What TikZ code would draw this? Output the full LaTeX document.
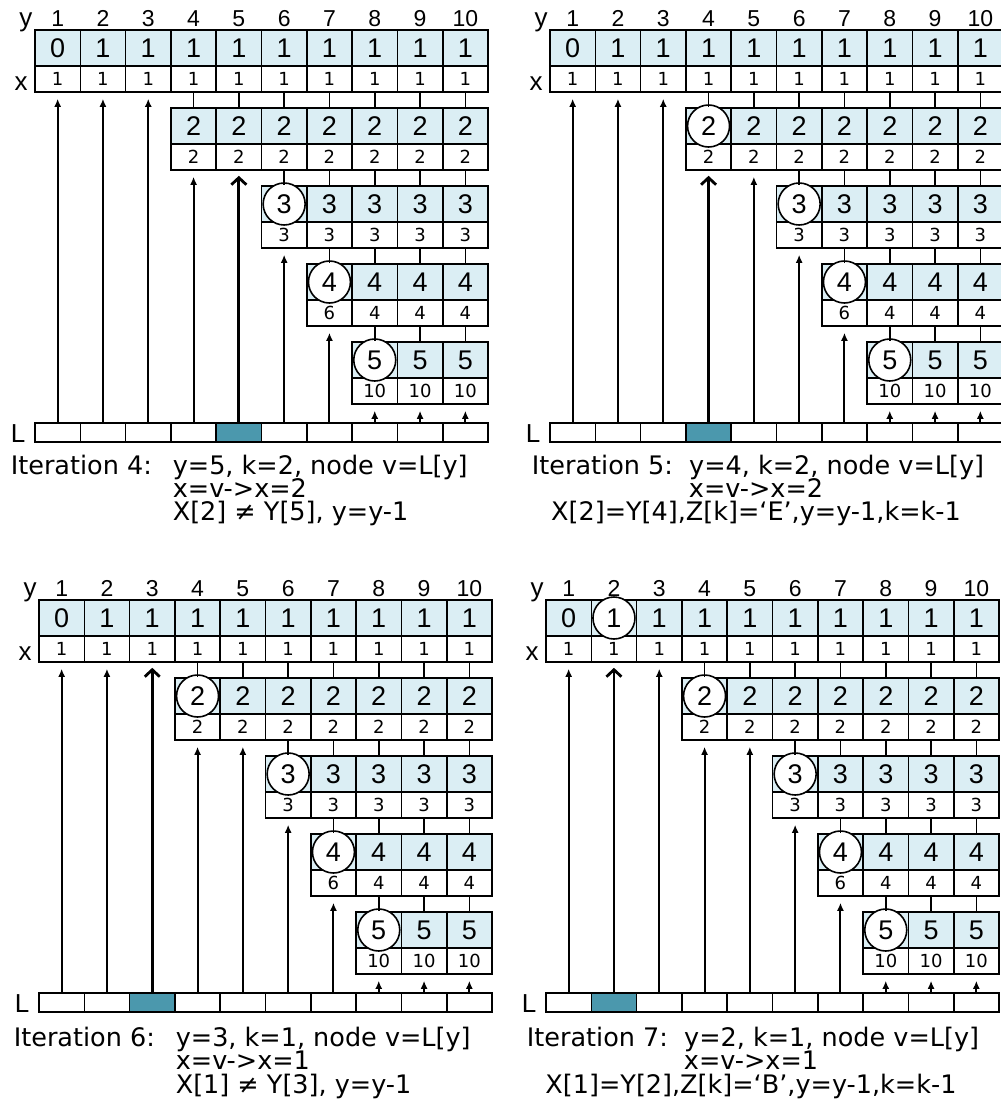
\documentclass[tikz,border=0pt]{standalone}
\usepackage{fontspec}
\setmainfont{DejaVu Sans}
\newfontfamily\arialfont{Liberation Sans}
\usetikzlibrary{arrows.meta, positioning, calc}

\definecolor{cellblue}{RGB}{219,238,244}
\definecolor{hlteal}{RGB}{75,152,173}

\tikzset{
  valcell/.style={draw, fill=cellblue, minimum width=45.3pt, minimum height=36pt, inner sep=0pt,
    font=\arialfont\fontsize{27}{27}\selectfont},
  xcell/.style={draw, fill=white, minimum width=45.3pt, minimum height=26pt, inner sep=0pt,
    font=\fontsize{18}{18}\selectfont},
  lcell/.style={draw, fill=white, minimum width=45.3pt, minimum height=19pt, inner sep=0pt},
  ring/.style={draw, circle, fill=white, minimum size=42pt, inner sep=0pt,
    font=\arialfont\fontsize{27}{27}\selectfont},
  ptr/.style={-{Latex[length=8pt,width=7pt]}, line width=2pt, shorten >=6pt},
  bigptr/.style={-{Straight Barb[length=7pt,width=15pt]}, line width=2.8pt, shorten >=5pt},
  numlbl/.style={anchor=base, inner sep=0pt, font=\arialfont\fontsize{23}{23}\selectfont},
  rowlbl/.style={anchor=base, inner sep=0pt, font=\arialfont\fontsize{26}{26}\selectfont},
  itertext/.style={anchor=base west, inner sep=0pt, font=\fontsize{25.5}{25.5}\selectfont},
  itermid/.style={anchor=base, inner sep=0pt, font=\fontsize{25.5}{25.5}\selectfont}
}

\begin{document}
\begin{tikzpicture}[x=1pt, y=-1pt, line width=1.6pt]
  \useasboundingbox (0,0) rectangle (1001,1117);

  \foreach \p/\ox/\oy/\hl in {1/35/0/5, 2/550/0/4, 3/39/570/3, 4/546/570/2}{
    % row labels and column numbers
    \node[rowlbl] (p\p-ylbl) at (\ox-9, \oy+26) {y};
    \node[rowlbl] (p\p-xlbl) at (\ox-14, \oy+90) {x};
    \node[rowlbl] (p\p-Llbl) at (\ox-17, \oy+442) {L};
    \foreach \c in {1,...,10}{
      \node[numlbl] (p\p-n\c) at (\ox+45.3*\c-22.65, \oy+26) {\c};
    }
    % levels
    \foreach \lv/\sc in {1/1, 2/4, 3/6, 4/7, 5/8}{
      \pgfmathsetmacro\ty{\oy+30+78*(\lv-1)}
      \foreach \c in {\sc,...,10}{
        \pgfmathtruncatemacro\v{(\lv==1 && \c==1) ? 0 : \lv}
        \pgfmathtruncatemacro\xv{\lv==5 ? 10 : ((\lv==4 && \c==7) ? 6 : (\lv==1 ? 1 : \lv))}
        \node[valcell] (p\p-v\lv-\c) at (\ox+45.3*\c-22.65, \ty+18) {\v};
        \node[xcell] (p\p-x\lv-\c) at (\ox+45.3*\c-22.65, \ty+49) {\xv};
        \pgfmathtruncatemacro\isring{((\c==\sc && \lv>2) || (\c==\sc && \lv==2 && \p>1) || (\lv==1 && \c==2 && \p==4)) ? 1 : 0}
        \ifnum\isring=1
          \node[ring] (p\p-r\lv) at (p\p-v\lv-\c) {\v};
        \fi
        \ifnum\lv>1
          \pgfmathtruncatemacro\pv{\lv-1}
          \draw (p\p-x\pv-\c.south) -- (p\p-v\lv-\c.north);
        \fi
      }
    }
    % list L and its pointers
    \foreach \c in {1,...,10}{
      \ifnum\c=\hl
        \node[lcell, fill=hlteal] (p\p-L\c) at (\ox+45.3*\c-22.65, \oy+432.5) {};
      \else
        \node[lcell] (p\p-L\c) at (\ox+45.3*\c-22.65, \oy+432.5) {};
      \fi
      \pgfmathtruncatemacro\tl{\c<4 ? 1 : (\c<6 ? 2 : (\c==6 ? 3 : (\c==7 ? 4 : 5)))}
      \ifnum\c=\hl
        \draw[bigptr] (p\p-L\c.north) -- (p\p-x\tl-\c.south);
      \else
        \draw[ptr] (p\p-L\c.north) -- (p\p-x\tl-\c.south);
      \fi
    }
  }

  % iteration notes
  \node[itertext] (p1-t1) at (10, 474) {Iteration 4:};
  \node[itertext] (p1-t2) at (172, 474) {y=5, k=2, node v=L[y]};
  \node[itertext] (p1-t3) at (172, 497) {x=v->x=2};
  \node[itertext] (p1-t4) at (172, 520) {X[2] ≠ Y[5], y=y-1};

  \node[itermid] (p2-t1) at (758, 474) {Iteration 5:\ \ y=4, k=2, node v=L[y]};
  \node[itermid] (p2-t2) at (756, 497) {x=v->x=2};
  \node[itermid] (p2-t3) at (756, 520) {X[2]=Y[4],Z[k]=‘E’,y=y-1,k=k-1};

  \node[itertext] (p3-t1) at (13, 1046) {Iteration 6:};
  \node[itertext] (p3-t2) at (175, 1046) {y=3, k=1, node v=L[y]};
  \node[itertext] (p3-t3) at (175, 1069) {x=v->x=1};
  \node[itertext] (p3-t4) at (175, 1093) {X[1] ≠ Y[3], y=y-1};

  \node[itermid] (p4-t1) at (753, 1046) {Iteration 7:\ \ y=2, k=1, node v=L[y]};
  \node[itermid] (p4-t2) at (751, 1069) {x=v->x=1};
  \node[itermid] (p4-t3) at (751, 1093) {X[1]=Y[2],Z[k]=‘B’,y=y-1,k=k-1};
\end{tikzpicture}
\end{document}
